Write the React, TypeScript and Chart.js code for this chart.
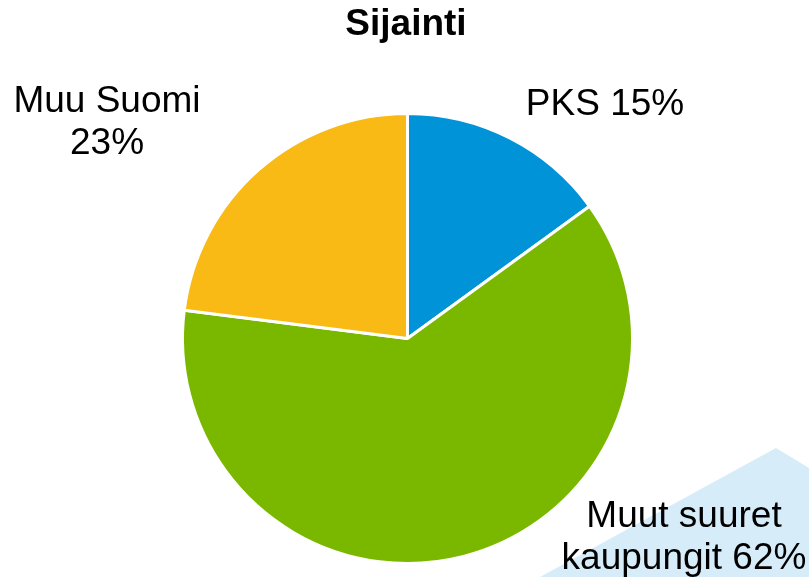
import React, { useEffect, useRef } from "react";
import { Chart, registerables } from "chart.js";

Chart.register(...registerables);

const title = "Sijainti";
const categories = ["PKS", "Muut suuret kaupungit", "Muu Suomi"];
const values = [15, 62, 23];
const colors = ["#0093D7", "#7AB800", "#F9BA16"];
const labelLines = [["PKS 15%"], ["Muut suuret", "kaupungit 62%"], ["Muu Suomi", "23%"]];
const labelAnchors = [
  { x: 605, y: 115 },
  { x: 684, y: 527 },
  { x: 107, y: 112 },
];

const textPlugin = {
  id: "textPlugin",
  afterDraw(chart: any) {
    const ctx = chart.ctx;
    ctx.save();
    ctx.fillStyle = "#000";
    ctx.textAlign = "center";
    ctx.textBaseline = "alphabetic";
    ctx.font = "bold 37px 'Liberation Sans', Arial, sans-serif";
    ctx.fillText(title, 406, 35);
    ctx.font = "37px 'Liberation Sans', Arial, sans-serif";
    labelLines.forEach((lines, i) => {
      const a = labelAnchors[i];
      lines.forEach((l, j) => ctx.fillText(l, a.x, a.y + j * 42));
    });
    ctx.restore();
  },
};

export default function App() {
  const ref = useRef<HTMLCanvasElement>(null);
  useEffect(() => {
    if (!ref.current) return;
    const chart = new Chart(ref.current, {
      type: "pie",
      data: {
        labels: categories,
        datasets: [
          {
            data: values,
            backgroundColor: colors,
            borderColor: "#ffffff",
            borderWidth: 3,
          },
        ],
      },
      options: {
        animation: false,
        responsive: false,
        layout: { padding: { left: 181, right: 175, top: 112, bottom: 12 } },
        plugins: {
          legend: { display: false },
          title: { display: false },
          tooltip: { enabled: false },
        },
      },
      plugins: [textPlugin],
    });
    return () => chart.destroy();
  }, []);
  return (
    <div style={{ position: "absolute", left: 0, top: 0, width: 809, height: 577, overflow: "hidden", background: "#fff" }}>
      <div
        style={{
          position: "absolute",
          left: 0,
          top: 0,
          width: 809,
          height: 577,
          background: "#D6ECF9",
          clipPath: "polygon(776px 448px, 809px 468px, 809px 577px, 540px 577px)",
        }}
      />
      <canvas ref={ref} width={809} height={577} style={{ position: "absolute", left: 0, top: 0 }} />
    </div>
  );
}
